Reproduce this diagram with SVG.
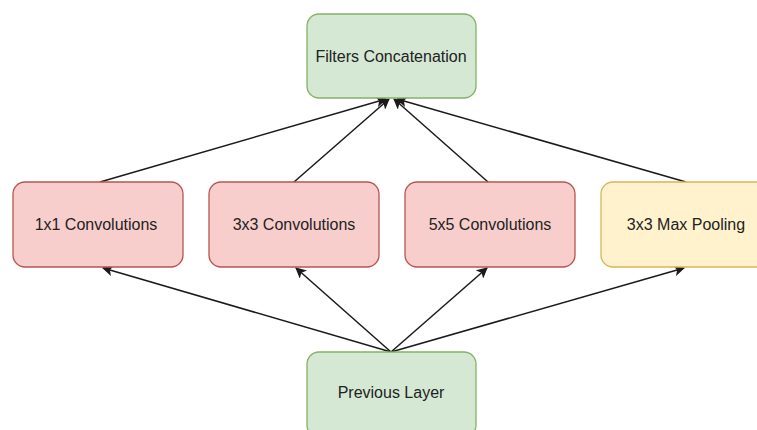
<svg xmlns="http://www.w3.org/2000/svg" width="757" height="430" viewBox="0 0 757 430">
<style>
.green{fill:#d5e8d4;stroke:#82b366;stroke-width:1.3}
.red{fill:#f8cecc;stroke:#b85450;stroke-width:1.3}
.yellow{fill:#fff2cc;stroke:#d6b656;stroke-width:1.3}
.lbl{font-family:"Liberation Sans",Arial,sans-serif;font-size:16px;fill:#222;text-anchor:middle;dominant-baseline:central}
.edge{stroke:#1a1a1a;stroke-width:1.5;fill:none;marker-end:url(#arr)}
</style>
<defs>
<marker id="arr" viewBox="0 0 10 10" refX="9" refY="5" markerWidth="11" markerHeight="11" markerUnits="userSpaceOnUse" orient="auto">
<path d="M0,0 L10,5 L0,10 L2.5,5 Z" fill="#1a1a1a"/>
</marker>
</defs>
<rect width="757" height="430" fill="#fff"/>
<g id="connectors">
<line class="edge" x1="100" y1="182" x2="386" y2="99"/>
<line class="edge" x1="294" y1="182" x2="389" y2="99"/>
<line class="edge" x1="488" y1="182" x2="394" y2="99"/>
<line class="edge" x1="686" y1="182" x2="397" y2="99"/>
<line class="edge" x1="391" y1="352" x2="103" y2="268"/>
<line class="edge" x1="391" y1="352" x2="296" y2="268"/>
<line class="edge" x1="391" y1="352" x2="487" y2="268"/>
<line class="edge" x1="391" y1="352" x2="684" y2="268"/>
</g>
<g id="filters-concat">
<rect class="green" x="307" y="14" width="169" height="84" rx="12"/>
<text class="lbl" x="391" y="56">Filters Concatenation</text>
</g>
<g id="conv1x1">
<rect class="red" x="13" y="182" width="170" height="85" rx="12"/>
<text class="lbl" x="96" y="224">1x1 Convolutions</text>
</g>
<g id="conv3x3">
<rect class="red" x="209" y="182" width="170" height="85" rx="12"/>
<text class="lbl" x="294" y="224">3x3 Convolutions</text>
</g>
<g id="conv5x5">
<rect class="red" x="405" y="182" width="170" height="85" rx="12"/>
<text class="lbl" x="490" y="224">5x5 Convolutions</text>
</g>
<g id="maxpool">
<rect class="yellow" x="601" y="182" width="170" height="85" rx="12"/>
<text class="lbl" x="686" y="224">3x3 Max Pooling</text>
</g>
<g id="previous-layer">
<rect class="green" x="307" y="352" width="169" height="85" rx="12"/>
<text class="lbl" x="391" y="392">Previous Layer</text>
</g>
</svg>
